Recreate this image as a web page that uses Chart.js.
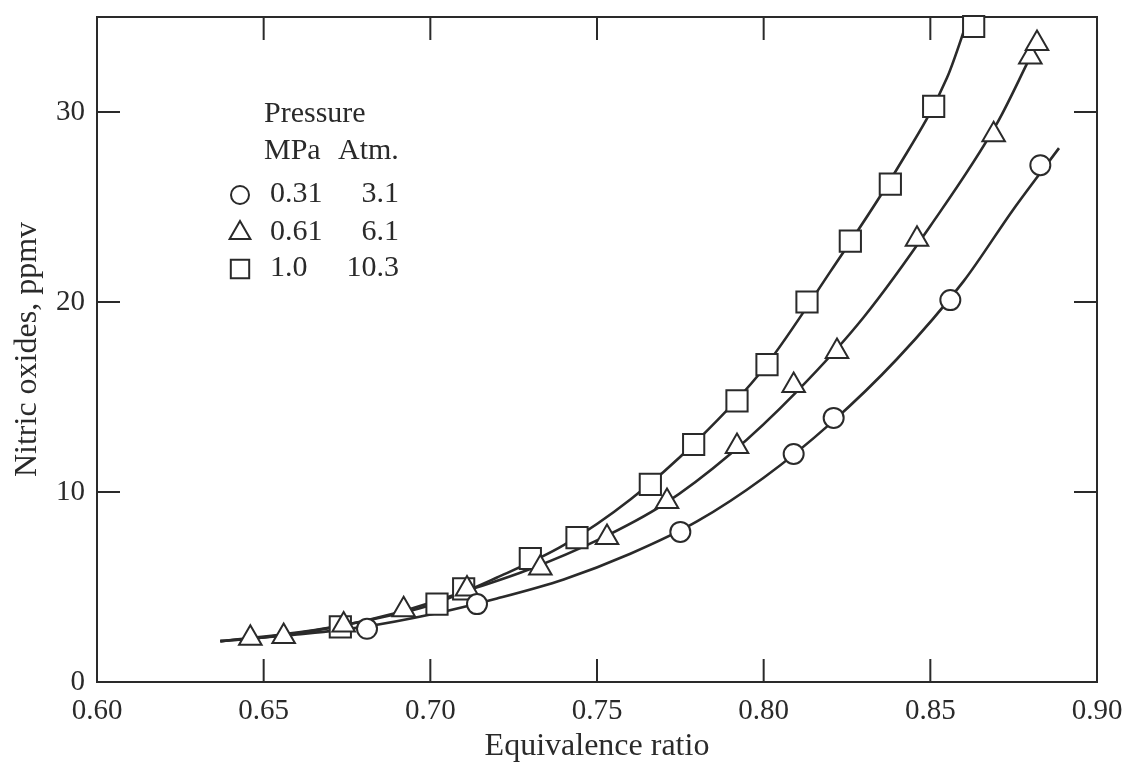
<!DOCTYPE html>
<html>
<head>
<meta charset="utf-8">
<script src="https://cdn.jsdelivr.net/npm/chart.js@4.4.1/dist/chart.umd.min.js"></script>
<style>
  body{margin:0;background:#fff;}
  #wrap{width:1131px;height:766px;}
</style>
</head>
<body>
<div id="wrap"><canvas id="noxChart" width="1131" height="766"></canvas></div>
<script>
// measured points, 0.31 MPa (3.1 atm)
const circlePhi = [0.681, 0.714, 0.775, 0.809, 0.821, 0.856, 0.883];
const circleNox = [2.8, 4.1, 7.9, 12.0, 13.9, 20.1, 27.2];
// 0.61 MPa (6.1 atm)
const trianglePhi = [0.646, 0.656, 0.674, 0.692, 0.711, 0.733, 0.753, 0.771, 0.792, 0.809, 0.822, 0.846, 0.869, 0.880, 0.882];
const triangleNox = [2.3, 2.4, 3.0, 3.8, 4.9, 6.0, 7.6, 9.5, 12.4, 15.6, 17.4, 23.3, 28.8, 32.9, 33.6];
// 1.0 MPa (10.3 atm)
const squarePhi = [0.673, 0.702, 0.710, 0.730, 0.744, 0.766, 0.779, 0.792, 0.801, 0.813, 0.826, 0.838, 0.851, 0.863];
const squareNox = [2.9, 4.1, 4.9, 6.5, 7.6, 10.4, 12.5, 14.8, 16.7, 20.0, 23.2, 26.2, 30.3, 34.5];

// fitted curves
const fitLowPhi = [0.637, 0.66, 0.68, 0.70, 0.72, 0.74, 0.76, 0.78, 0.80, 0.82, 0.84, 0.86, 0.875, 0.8886];
const fitLowNox = [2.15, 2.5, 2.9, 3.55, 4.4, 5.4, 6.75, 8.45, 10.75, 13.6, 17.0, 21.1, 24.9, 28.1];
const fitMidPhi = [0.637, 0.65, 0.67, 0.69, 0.71, 0.73, 0.75, 0.77, 0.79, 0.81, 0.83, 0.85, 0.87, 0.88];
const fitMidNox = [2.15, 2.35, 2.85, 3.65, 4.75, 5.95, 7.45, 9.35, 12.0, 15.3, 19.2, 24.0, 29.4, 32.9];
const fitHighPhi = [0.637, 0.66, 0.68, 0.70, 0.72, 0.74, 0.76, 0.78, 0.80, 0.82, 0.84, 0.855, 0.8615];
const fitHighNox = [2.15, 2.6, 3.2, 4.05, 5.5, 7.2, 9.6, 12.7, 16.5, 21.6, 27.0, 31.8, 35.0];

const xTicks = [0.60, 0.65, 0.70, 0.75, 0.80, 0.85, 0.90];
const yTicks = [0, 10, 20, 30];

const legendTitle = ['Pressure', 'MPa', 'Atm.'];
const legendMPa = ['0.31', '0.61', '1.0'];
const legendAtm = ['3.1', '6.1', '10.3'];
const legendStyles = ['circle', 'triangle', 'rect'];

const INK = '#2a2a2a';
const FONT = '"Liberation Serif", "Times New Roman", serif';

const pts = (xs, ys) => xs.map((x,i)=>({x, y: ys[i]}));

const curve = (xs, ys) => ({
  data: pts(xs, ys), showLine: true, pointRadius: 0, borderColor: INK, borderWidth: 2.6,
  cubicInterpolationMode: 'monotone', fill: false, order: 2, clip: false
});
const marks = (xs, ys, style, r) => ({
  data: pts(xs, ys), showLine: false, pointStyle: style, pointRadius: r, pointHoverRadius: r,
  backgroundColor: '#fff', borderColor: INK, borderWidth: 2, order: 1, clip: false
});

const framePlugin = {
  id: 'frame',
  beforeDatasetsDraw(chart){
    const {ctx, chartArea:a, scales:{x, y}} = chart;
    const tl = 23;
    ctx.save();
    ctx.strokeStyle = INK;
    ctx.lineWidth = 2;
    ctx.strokeRect(a.left, a.top, a.right - a.left, a.bottom - a.top);
    ctx.beginPath();
    xTicks.slice(1, -1).forEach(v=>{
      const px = x.getPixelForValue(v);
      ctx.moveTo(px, a.bottom); ctx.lineTo(px, a.bottom - tl);
      ctx.moveTo(px, a.top); ctx.lineTo(px, a.top + tl);
    });
    yTicks.slice(1).forEach(v=>{
      const py = y.getPixelForValue(v);
      ctx.moveTo(a.left, py); ctx.lineTo(a.left + tl, py);
      ctx.moveTo(a.right, py); ctx.lineTo(a.right - tl, py);
    });
    ctx.stroke();
    ctx.restore();
  },
  afterDraw(chart){
    const {ctx} = chart;
    ctx.save();
    ctx.fillStyle = INK;
    ctx.font = '30px ' + FONT;
    ctx.textBaseline = 'middle';
    ctx.textAlign = 'left';
    ctx.fillText(legendTitle[0], 264, 114);
    ctx.fillText(legendTitle[1], 264, 151);
    ctx.fillText(legendTitle[2], 338, 151);
    const rowY = [194, 232, 268];
    const sizes = [9, 12, 13];
    legendMPa.forEach((m,i)=>{
      ctx.textAlign = 'left';
      ctx.fillText(m, 270, rowY[i]);
      ctx.textAlign = 'right';
      ctx.fillText(legendAtm[i], 399, rowY[i]);
      ctx.fillStyle = '#fff';
      ctx.strokeStyle = INK;
      ctx.lineWidth = 2;
      Chart.helpers.drawPoint(ctx, {pointStyle: legendStyles[i], radius: sizes[i], borderWidth: 2}, 240, rowY[i] + 1);
      ctx.fillStyle = INK;
    });
    ctx.restore();
  }
};

const ctx = document.getElementById('noxChart').getContext('2d');
new Chart(ctx, {
  type: 'scatter',
  data: { datasets: [
    marks(circlePhi, circleNox, 'circle', 10),
    marks(trianglePhi, triangleNox, 'triangle', 13),
    marks(squarePhi, squareNox, 'rect', 15),
    curve(fitLowPhi, fitLowNox),
    curve(fitMidPhi, fitMidNox),
    curve(fitHighPhi, fitHighNox),
  ]},
  options: {
    responsive: false,
    animation: false,
    layout: { padding: { top: 12, right: 34, left: 0, bottom: 0 } },
    plugins: { legend: { display: false }, tooltip: { enabled: false } },
    scales: {
      x: {
        type: 'linear', min: 0.6, max: 0.9,
        afterBuildTicks: s => { s.ticks = xTicks.map(v=>({value: v})); },
        afterFit: s => { s.height = 84; s.paddingLeft = 0; s.paddingRight = 0; },
        ticks: { callback: v => v.toFixed(2), color: INK, font: { family: FONT, size: 29 }, padding: 12, maxRotation: 0 },
        grid: { display: false, drawTicks: false },
        border: { display: false },
        title: { display: true, text: 'Equivalence ratio', color: INK, font: { family: FONT, size: 32 }, padding: { top: 0, bottom: 0 } }
      },
      y: {
        type: 'linear', min: 0, max: 35,
        afterBuildTicks: s => { s.ticks = yTicks.map(v=>({value: v})); },
        afterFit: s => { s.width = 97; s.paddingTop = 0; s.paddingBottom = 0; },
        ticks: { color: INK, font: { family: FONT, size: 29 }, padding: 12 },
        grid: { display: false, drawTicks: false },
        border: { display: false },
        title: { display: true, text: 'Nitric oxides, ppmv', color: INK, font: { family: FONT, size: 32 }, padding: { top: 8, bottom: 0 } }
      }
    }
  },
  plugins: [framePlugin]
});
</script>
</body>
</html>
